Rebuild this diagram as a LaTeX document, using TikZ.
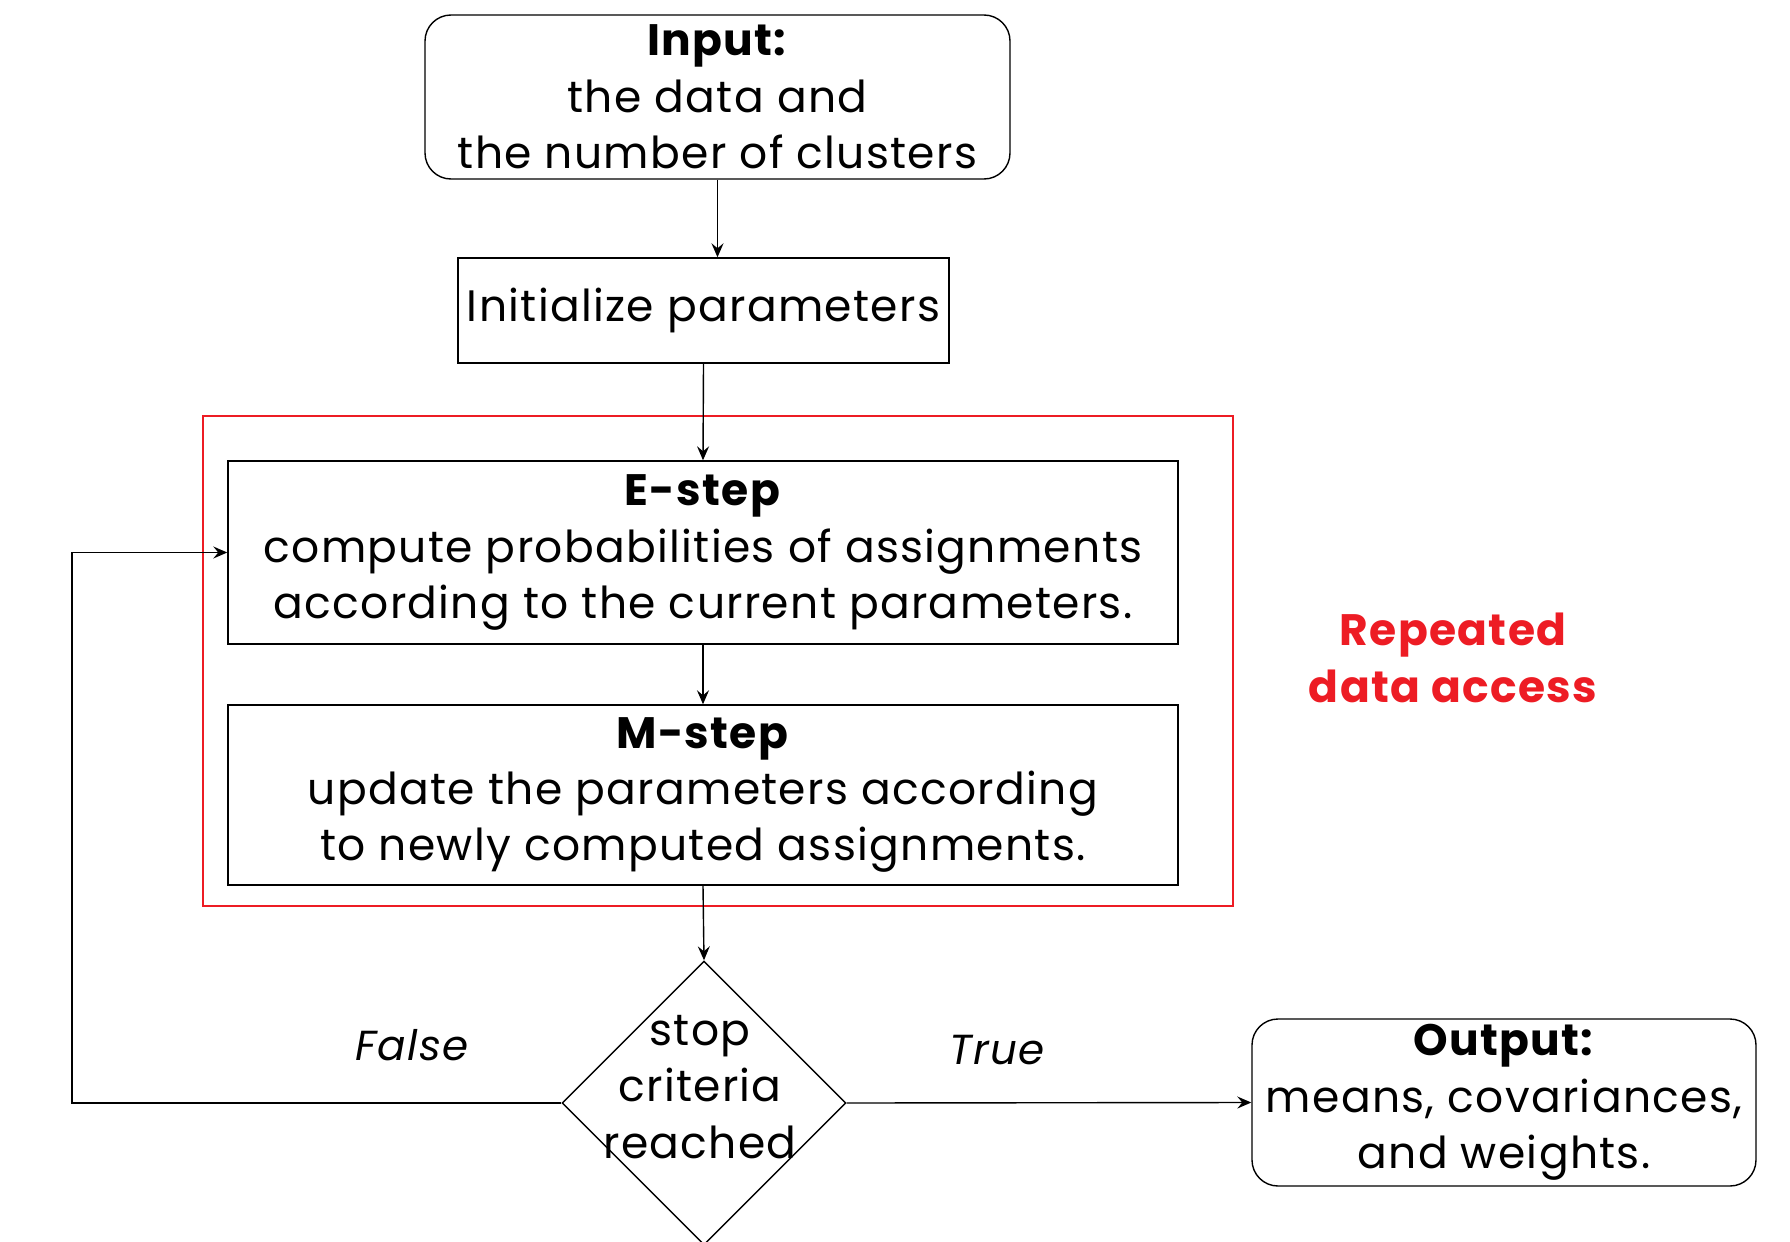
\documentclass[tikz,border=0pt]{standalone}
\usepackage{fontspec}
\setmainfont{Poppins}[LetterSpace=3]
\usetikzlibrary{shapes.geometric,arrows.meta}
\definecolor{accred}{RGB}{237,28,36}
\tikzset{
  txt/.style={font=\fontsize{22}{28.2}\selectfont},
  box/.style={draw, line width=0.7pt, inner sep=0pt, align=center, txt},
  rbox/.style={box, rounded corners=13pt},
  arr/.style={-{Stealth[length=7pt,width=6pt,inset=2.5pt]}, line width=0.7pt},
  lbl/.style={font=\fontsize{21}{24}\selectfont\itshape},
}
\begin{document}
\begin{tikzpicture}[x=0.5pt,y=-0.5pt]
\useasboundingbox (0,0) rectangle (1790,1242);
\node[rbox, minimum width=292.5pt, minimum height=82pt] (input) at (717.5,97)
  {\textbf{Input:}\\the data and\\the number of clusters};
\node[box, minimum width=245.5pt, minimum height=52.5pt] (init) at (703.5,310.5)
  {Initialize parameters};
\draw[accred, line width=1.3pt] (203,416) rectangle (1233,906);
\node[box, minimum width=475pt, minimum height=91.5pt] (estep) at (703,552.5)
  {\textbf{E-step}\\compute probabilities of assignments\\according to the current parameters.};
\node[box, minimum width=475pt, minimum height=90pt] (mstep) at (703,795)
  {\textbf{M-step}\\update the parameters according\\to newly computed assignments.};
\node[diamond, draw, line width=0.7pt, minimum width=142pt, minimum height=142pt, inner sep=0pt] (dec) at (704,1103) {};
\node[align=center, txt] (dectext) at (700,1087) {stop\\criteria\\reached};
\node[rbox, minimum width=252pt, minimum height=83.5pt] (output) at (1504,1102.5)
  {\textbf{Output:}\\means, covariances,\\and weights.};
\node[align=center, text=accred, font=\fontsize{22}{28.2}\selectfont\bfseries] (rep) at (1453,658)
  {Repeated\\data access};
\node[lbl] (false) at (412,1045) {False};
\node[lbl] (true) at (997,1050) {True};
\coordinate (lp) at (72,1103);
\draw[arr] (input.south) -- (input.south |- init.north);
\draw[arr] (init.south) -- (estep.north);
\draw[arr] (estep.south) -- (mstep.north);
\draw[arr] (mstep.south) -- (dec.north);
\draw[arr] (dec.east) -- (output.west);
\draw[arr] (dec.west) -- (lp) |- (estep.west);
\end{tikzpicture}
\end{document}
